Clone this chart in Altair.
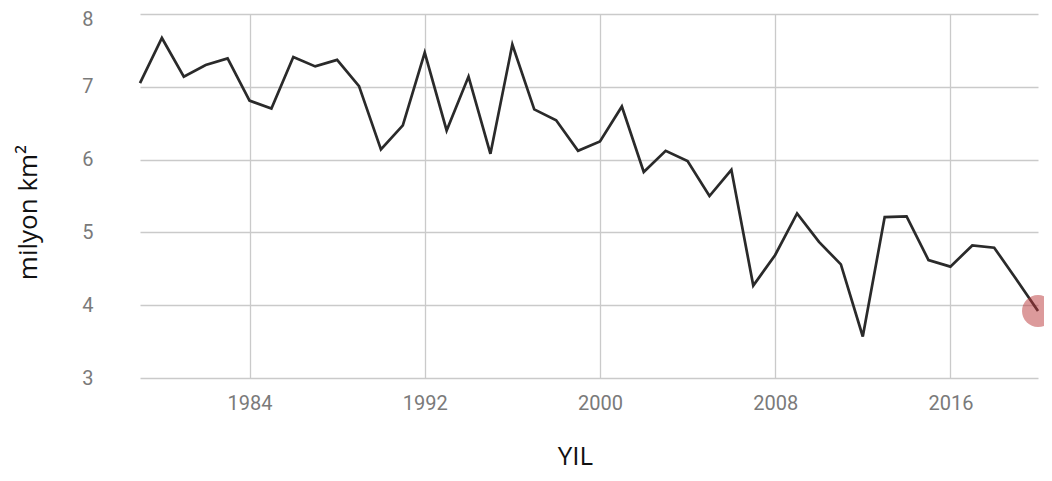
import altair as alt
import pandas as pd

years = [1979, 1980, 1981, 1982, 1983, 1984, 1985, 1986, 1987, 1988,
         1989, 1990, 1991, 1992, 1993, 1994, 1995, 1996, 1997, 1998,
         1999, 2000, 2001, 2002, 2003, 2004, 2005, 2006, 2007, 2008,
         2009, 2010, 2011, 2012, 2013, 2014, 2015, 2016, 2017, 2018,
         2019, 2020]
extent = [7.05, 7.67, 7.14, 7.30, 7.39, 6.81, 6.70, 7.41, 7.28, 7.37,
          7.01, 6.14, 6.47, 7.47, 6.40, 7.14, 6.08, 7.58, 6.69, 6.54,
          6.12, 6.25, 6.73, 5.83, 6.12, 5.98, 5.50, 5.86, 4.27, 4.69,
          5.26, 4.87, 4.56, 3.57, 5.21, 5.22, 4.62, 4.53, 4.82, 4.79,
          4.36, 3.92]
x_ticks = [1984, 1992, 2000, 2008, 2016]
y_ticks = [3, 4, 5, 6, 7, 8]

df = pd.DataFrame({"year": years, "extent": extent})
last = df.tail(1)

grid_color = "#cacaca"

x_enc = alt.X(
    "year:Q",
    scale=alt.Scale(domain=[1979, 2020], nice=False, zero=False),
    axis=alt.Axis(
        values=x_ticks, format="d", title="YIL",
        grid=True, gridColor=grid_color, gridWidth=1.3,
        domain=False, ticks=False,
        labelFont="Roboto", labelFontSize=20, labelColor="#7a7a7a",
        labelPadding=15,
        titleFont="Open Sans", titleFontSize=26, titleFontWeight="normal",
        titleColor="#111111", titleX=435, titleY=86,
        titleBaseline="alphabetic", titleAlign="center",
    ),
)
y_enc = alt.Y(
    "extent:Q",
    scale=alt.Scale(domain=[3, 8], nice=False, zero=False),
    axis=alt.Axis(
        values=y_ticks, format="d", title="milyon km²",
        grid=True, gridColor=grid_color, gridWidth=1.3,
        domain=False, ticks=False,
        labelFont="Roboto", labelFontSize=20, labelColor="#7a7a7a",
        labelPadding=47,
        labelOffset={"condition": {"test": "datum.value == 8", "value": 5}, "value": 0},
        titleFont="Open Sans", titleFontSize=26, titleFontWeight="normal",
        titleColor="#111111", titleX=-104, titleY=198, titleAngle=270,
        titleBaseline="alphabetic", titleAlign="center",
    ),
)

line = alt.Chart(df).mark_line(color="#2a2a2a", strokeWidth=2.7).encode(x=x_enc, y=y_enc)
dot = alt.Chart(last).mark_circle(color="#b93537", opacity=0.5, size=1020).encode(
    x="year:Q", y="extent:Q"
)

chart = (
    alt.layer(line, dot)
    .properties(
        width=898, height=364,
        autosize=alt.AutoSizeParams(type="none"),
        padding={"left": 132, "top": 6, "right": 6, "bottom": 95},
    )
    .configure_view(stroke=None)
)

chart.save("out.html", embed_options={"renderer": "svg", "actions": False})
